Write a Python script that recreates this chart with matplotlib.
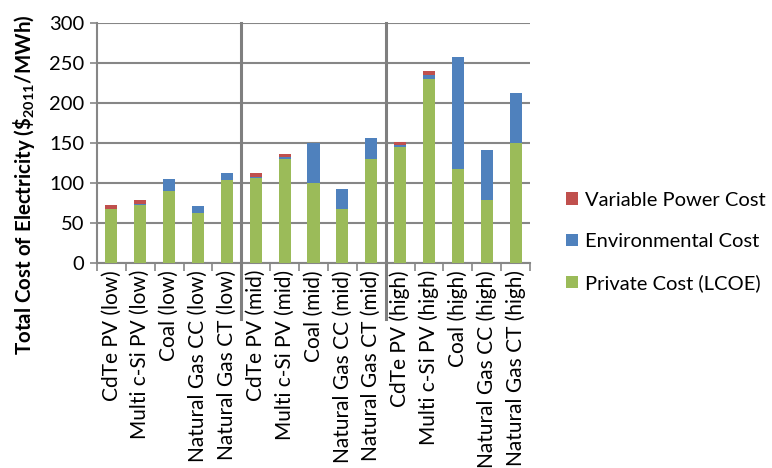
import matplotlib
matplotlib.use("Agg")
import matplotlib.pyplot as plt
import matplotlib.transforms as mtransforms
import numpy as np

plt.rcParams['font.family'] = ['Lato', 'DejaVu Sans']
plt.rcParams['mathtext.fontset'] = 'custom'
plt.rcParams['mathtext.rm'] = 'Lato'
plt.rcParams['mathtext.bf'] = 'Lato:bold'

categories = ["CdTe PV (low)", "Multi c-Si PV (low)", "Coal (low)", "Natural Gas CC (low)", "Natural Gas CT (low)",
              "CdTe PV (mid)", "Multi c-Si PV (mid)", "Coal (mid)", "Natural Gas CC (mid)", "Natural Gas CT (mid)",
              "CdTe PV (high)", "Multi c-Si PV (high)", "Coal (high)", "Natural Gas CC (high)", "Natural Gas CT (high)"]
private_cost = [67, 73, 90, 63, 104, 106, 130, 100, 67, 130, 145, 230, 118, 79, 150]
environmental_cost = [1, 1, 15, 8, 9, 1, 2, 50, 26, 26, 2, 5, 139, 62, 63]
variable_power_cost = [5, 5, 0, 0, 0, 5, 4, 0, 0, 0, 4, 5, 0, 0, 0]
yticks = [0, 50, 100, 150, 200, 250, 300]

c_green = "#9BBB59"
c_blue = "#4F81BD"
c_red = "#C0504D"
grid_c = "#868686"

fig = plt.figure(figsize=(7.72, 4.68), dpi=100)
ax = fig.add_axes([97/772, 1-263/468, 433/772, 240/468])

x = np.arange(len(categories))
p = np.array(private_cost)
e = np.array(environmental_cost)
v = np.array(variable_power_cost)
w = 0.42
b1 = ax.bar(x, p, w, color=c_green, label="Private Cost (LCOE)", zorder=3)
b2 = ax.bar(x, e, w, bottom=p, color=c_blue, label="Environmental Cost", zorder=3)
b3 = ax.bar(x, v, w, bottom=p + e, color=c_red, label="Variable Power Cost", zorder=3)

ax.set_xlim(-0.5, len(categories) - 0.5)
ax.set_ylim(0, 300)
ax.set_yticks(yticks)
ax.yaxis.grid(True, color=grid_c, linewidth=1.5, zorder=0)
ax.set_axisbelow(True)
for s in ["top", "right"]:
    ax.spines[s].set_visible(False)
for s in ["left", "bottom"]:
    ax.spines[s].set_color(grid_c)
    ax.spines[s].set_linewidth(1.5)
ax.tick_params(axis='y', colors=grid_c, length=5, width=1.2, labelsize=14.5, labelcolor='black', pad=4)
ax.set_xticks(x)
ax.set_xticklabels(categories, rotation=90, fontsize=15, va='top', ha='center')
ax.tick_params(axis='x', which='major', length=0, pad=5)
ax.set_xticks(np.arange(-0.5, len(categories), 1), minor=True)
ax.tick_params(axis='x', which='minor', length=6, width=1.2, color=grid_c)

# group separators
trans = mtransforms.blended_transform_factory(ax.transData, ax.transAxes)
for sx in [4.5, 9.5]:
    ax.plot([sx, sx], [1.0, -56/240], transform=trans, color="#7f7f7f", linewidth=2.2,
            clip_on=False, zorder=4)

fig.text(24/772, 1-185/468, r"Total Cost of Electricity (\$$_{\mathbf{2011}}$/MWh)", rotation=90,
         fontsize=14.8, fontweight='bold', ha='center', va='center')

handles = [b3, b2, b1]
leg = fig.legend(handles, [h.get_label() for h in handles], loc='center left',
                 bbox_to_anchor=(560/772, 1-242/468), frameon=False, fontsize=14.5,
                 handlelength=0.6, handleheight=0.6, labelspacing=1.2, handletextpad=0.35,
                 borderaxespad=0, borderpad=0.3)

fig.savefig("out.png", dpi=100)
